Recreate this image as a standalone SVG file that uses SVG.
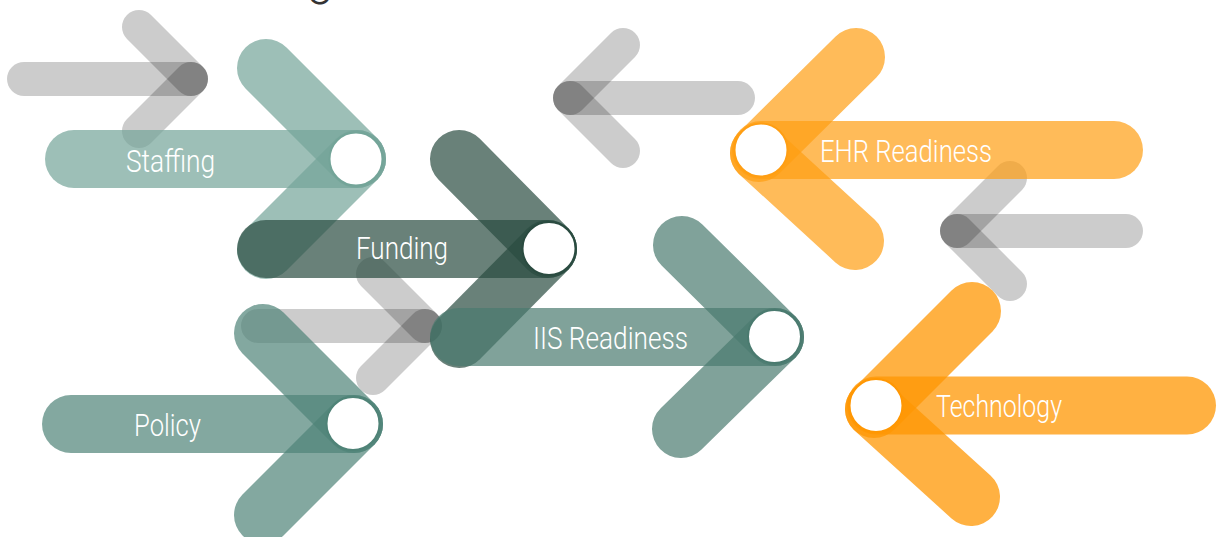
<svg xmlns="http://www.w3.org/2000/svg" width="1225" height="537" viewBox="0 0 1225 537">
<style>
  .gr { stroke:#000; stroke-opacity:0.2; stroke-width:34; stroke-linecap:round; fill:none; }
  .ar { stroke-width:58; stroke-linecap:round; fill:none; stroke-opacity:0.7; }
  .staff { stroke:#73a498; }
  .fund { stroke:#2a4b40; stroke-opacity:0.7; }
  .pol { stroke:#4f8377; }
  .iis { stroke:#4a7a6f; }
  .ehr { stroke:#ff9e13; }
  .tech { stroke:#ff9703; stroke-opacity:0.75; }
  .dot { fill:#fff; stroke-width:2; }
  .lbl { font-family:Roboto, "Liberation Sans", sans-serif; font-weight:300; font-size:32px; fill:#fff; }
  .title { font-family:Roboto, "Liberation Sans", sans-serif; font-weight:300; font-size:48px; fill:#333; }
</style>
<rect width="1225" height="537" fill="#fff"/>
<text class="title" x="307" y="-6">g</text>

<g id="decor">
  <g id="gray1">
    <line class="gr" x1="24" y1="79" x2="191" y2="79"/>
    <line class="gr" x1="139" y1="27" x2="191" y2="79"/>
    <line class="gr" x1="139" y1="131" x2="191" y2="79"/>
  </g>
  <g id="gray2">
    <line class="gr" x1="738" y1="98" x2="570" y2="98"/>
    <line class="gr" x1="623" y1="45" x2="570" y2="98"/>
    <line class="gr" x1="623" y1="151" x2="570" y2="98"/>
  </g>
  <g id="gray3">
    <line class="gr" x1="1126" y1="231" x2="957" y2="231"/>
    <line class="gr" x1="1010" y1="178" x2="957" y2="231"/>
    <line class="gr" x1="1010" y1="284" x2="957" y2="231"/>
  </g>
  <g id="gray4">
    <line class="gr" x1="258" y1="326" x2="425" y2="326"/>
    <line class="gr" x1="373" y1="274" x2="425" y2="326"/>
    <line class="gr" x1="373" y1="378" x2="425" y2="326"/>
  </g>
</g>

<g id="connectors"></g>

<g id="staffing">
  <line class="ar staff" x1="74" y1="159" x2="357" y2="159"/>
  <line class="ar staff" x1="266" y1="68" x2="357" y2="159"/>
  <line class="ar staff" x1="266" y1="250" x2="357" y2="159"/>
  <circle class="dot" cx="356" cy="159" r="26.5" stroke="#73a498"/>
  <text class="lbl" x="126" y="172" textLength="89" lengthAdjust="spacingAndGlyphs">Staffing</text>
</g>

<g id="policy">
  <line class="ar pol" x1="71" y1="424" x2="354" y2="424"/>
  <line class="ar pol" x1="263" y1="333" x2="354" y2="424"/>
  <line class="ar pol" x1="263" y1="515" x2="354" y2="424"/>
  <circle class="dot" cx="353" cy="423.5" r="26.5" stroke="#4f8377"/>
  <text class="lbl" x="134" y="436" textLength="67" lengthAdjust="spacingAndGlyphs">Policy</text>
</g>

<g id="funding">
  <line class="ar fund" x1="266" y1="249" x2="548" y2="249"/>
  <line class="ar fund" x1="459" y1="159" x2="548" y2="249"/>
  <line class="ar fund" x1="459" y1="339" x2="548" y2="249"/>
  <circle class="dot" cx="549" cy="248.5" r="26.5" stroke="#2a4b40"/>
  <text class="lbl" x="356" y="259" textLength="92" lengthAdjust="spacingAndGlyphs">Funding</text>
</g>

<g id="iis-readiness">
  <line class="ar iis" x1="459" y1="337" x2="775" y2="337"/>
  <line class="ar iis" x1="682" y1="245" x2="775" y2="337"/>
  <line class="ar iis" x1="681" y1="429" x2="775" y2="337"/>
  <circle class="dot" cx="774.5" cy="336.5" r="26.5" stroke="#4a7a6f"/>
  <text class="lbl" x="533" y="349" textLength="155" lengthAdjust="spacingAndGlyphs">IIS Readiness</text>
</g>

<g id="ehr-readiness">
  <line class="ar ehr" x1="1114" y1="150" x2="761" y2="150"/>
  <line class="ar ehr" x1="856" y1="57" x2="759" y2="153"/>
  <line class="ar ehr" x1="855" y1="241" x2="759" y2="153"/>
  <circle class="dot" cx="761" cy="150" r="26.5" stroke="#ff9e13"/>
  <text class="lbl" x="820" y="162" textLength="172" lengthAdjust="spacingAndGlyphs">EHR Readiness</text>
</g>

<g id="technology">
  <line class="ar tech" x1="1187" y1="405.5" x2="876" y2="405.5"/>
  <line class="ar tech" x1="972" y1="311" x2="874" y2="409"/>
  <line class="ar tech" x1="971" y1="497" x2="874" y2="409"/>
  <circle class="dot" cx="876" cy="405.5" r="26.5" stroke="#ff9703"/>
  <text class="lbl" x="936" y="417" textLength="126" lengthAdjust="spacingAndGlyphs">Technology</text>
</g>
</svg>
